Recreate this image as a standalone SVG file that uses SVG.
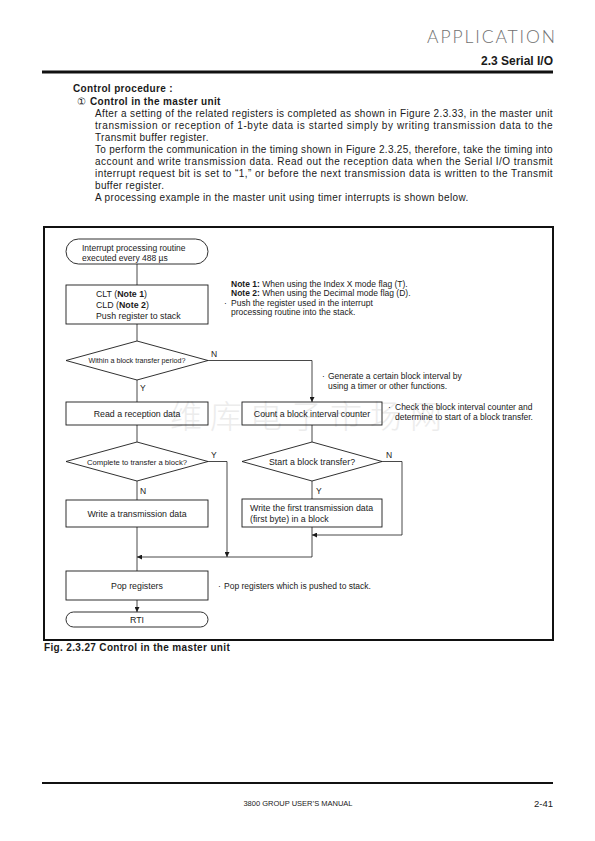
<svg xmlns="http://www.w3.org/2000/svg" width="595" height="841" viewBox="0 0 595 841">
<style>
  .t { font-family: "Liberation Sans", Arial, sans-serif; fill: #1a1a1a; }
  .p { font-size: 10px; letter-spacing: 0.35px; }
  .b { font-weight: bold; }
  .box { font-size: 8.8px; }
  .note { font-size: 8.5px; }
  .lbl { font-size: 8.5px; }
  .sh { fill: none; stroke: #1a1a1a; stroke-width: 0.9; }
  .ln { fill: none; stroke: #1a1a1a; stroke-width: 0.8; }
</style>
<defs>
  <marker id="ah" viewBox="0 0 6 6" refX="6" refY="3" markerWidth="5" markerHeight="5" orient="auto" markerUnits="userSpaceOnUse">
    <path d="M0,0 L6,3 L0,6 z" fill="#1a1a1a"/>
  </marker>
</defs>
<rect width="595" height="841" fill="#fff"/>

<!-- watermark (faint, behind everything) -->
<text x="170" y="428" style="font-family: 'Noto Sans CJK SC', sans-serif; font-size: 32px; font-weight: 300; fill: #ececec;" textLength="272" lengthAdjust="spacing">维库电子市场网</text>

<!-- header -->
<text x="555" y="43" text-anchor="end" style="font-family: Lato, 'Open Sans', sans-serif; font-weight: 300; font-size: 17.5px; fill: #707070;" textLength="128" lengthAdjust="spacing">APPLICATION</text>
<text x="553" y="65" text-anchor="end" class="t b" style="font-size: 12px;">2.3 Serial I/O</text>
<line x1="42" y1="72" x2="553" y2="72" stroke="#111" stroke-width="3"/>

<!-- body text -->
<text x="73" y="92" class="t p b">Control procedure :</text>
<text x="77" y="104.5" class="t p">①</text>
<text x="90" y="104.5" class="t p b">Control in the master unit</text>
<text x="95" y="116.5" class="t p" textLength="458" lengthAdjust="spacing">After a setting of the related registers is completed as shown in Figure 2.3.33, in the master unit</text>
<text x="95" y="128.5" class="t p" textLength="458" lengthAdjust="spacing">transmission or reception of 1-byte data is started simply by writing transmission data to the</text>
<text x="95" y="140.5" class="t p">Transmit buffer register.</text>
<text x="95" y="152.5" class="t p" textLength="458" lengthAdjust="spacing">To perform the communication in the timing shown in Figure 2.3.25, therefore, take the timing into</text>
<text x="95" y="164.5" class="t p" textLength="458" lengthAdjust="spacing">account and write transmission data. Read out the reception data when the Serial I/O transmit</text>
<text x="95" y="176.5" class="t p" textLength="458" lengthAdjust="spacing">interrupt request bit is set to “1,” or before the next transmission data is written to the Transmit</text>
<text x="95" y="188.5" class="t p">buffer register.</text>
<text x="95" y="200.5" class="t p">A processing example in the master unit using timer interrupts is shown below.</text>

<!-- frame -->
<rect x="44" y="227" width="509" height="413" fill="none" stroke="#111" stroke-width="2"/>

<!-- connectors -->
<g id="connectors">
  <path class="ln" d="M137,264 V285"/>
  <path class="ln" d="M137,324 V341"/>
  <path class="ln" d="M137,380 V402"/>
  <path class="ln" d="M208,360.5 H312 V402" marker-end="url(#ah)"/>
  <path class="ln" d="M137,425 V442"/>
  <path class="ln" d="M312,425 V442"/>
  <path class="ln" d="M208,461.5 H227 V557" marker-end="url(#ah)"/>
  <path class="ln" d="M137,481 V500"/>
  <path class="ln" d="M312,481 V499"/>
  <path class="ln" d="M382,461.5 H402 V535 H312" marker-end="url(#ah)"/>
  <path class="ln" d="M312,527 V557 H137" marker-end="url(#ah)"/>
  <path class="ln" d="M137,527 V571"/>
  <path class="ln" d="M137,600 V612" marker-end="url(#ah)"/>
  <text class="t lbl" x="211" y="357">N</text>
  <text class="t lbl" x="140" y="391">Y</text>
  <text class="t lbl" x="211" y="458">Y</text>
  <text class="t lbl" x="140" y="494">N</text>
  <text class="t lbl" x="386" y="458">N</text>
  <text class="t lbl" x="316" y="494">Y</text>
</g>

<!-- nodes -->
<g id="start">
  <rect class="sh" x="66" y="239" width="142" height="25" rx="12.5"/>
  <text class="t box" x="82" y="250.5" style="font-size:8.5px">Interrupt processing routine</text>
  <text class="t box" x="82" y="260.5" style="font-size:8.5px">executed every 488 µs</text>
</g>
<g id="push">
  <rect class="sh" x="66" y="285" width="142" height="39"/>
  <text class="t box" x="96" y="297">CLT (<tspan class="b">Note 1</tspan>)</text>
  <text class="t box" x="96" y="308">CLD (<tspan class="b">Note 2</tspan>)</text>
  <text class="t box" x="96" y="319">Push register to stack</text>
</g>
<g id="notes-push">
  <text class="t note" x="231" y="287"><tspan class="b">Note 1:</tspan> When using the Index X mode flag (T).</text>
  <text class="t note" x="231" y="295.5"><tspan class="b">Note 2:</tspan> When using the Decimal mode flag (D).</text>
  <text class="t note" x="224" y="306">·</text>
  <text class="t note" x="231" y="306">Push the register used in the interrupt</text>
  <text class="t note" x="231" y="314.5">processing routine into the stack.</text>
</g>
<g id="within">
  <polygon class="sh" points="66,360.5 137,341 208,360.5 137,380"/>
  <text class="t" x="137" y="363" text-anchor="middle" style="font-size:8px" textLength="97" lengthAdjust="spacingAndGlyphs">Within a block transfer period?</text>
</g>
<g id="note-generate">
  <text class="t note" x="322" y="379">·</text>
  <text class="t note" x="328" y="379">Generate a certain block interval by</text>
  <text class="t note" x="328" y="388.5">using a timer or other functions.</text>
</g>
<g id="read">
  <rect class="sh" x="66" y="402" width="142" height="23"/>
  <text class="t box" x="137" y="416.5" text-anchor="middle">Read a reception data</text>
</g>
<g id="count">
  <rect class="sh" x="242" y="402" width="140" height="23"/>
  <text class="t box" x="312" y="416.5" text-anchor="middle">Count a block interval counter</text>
</g>
<g id="note-check">
  <text class="t note" x="388" y="410">·</text>
  <text class="t note" x="395" y="410">Check the block interval counter and</text>
  <text class="t note" x="395" y="419.5">determine to start of a block transfer.</text>
</g>
<g id="complete">
  <polygon class="sh" points="66,461.5 137,442 208,461.5 137,481"/>
  <text class="t" x="137" y="464.5" text-anchor="middle" style="font-size:8px" textLength="100" lengthAdjust="spacingAndGlyphs">Complete to transfer a block?</text>
</g>
<g id="start-block">
  <polygon class="sh" points="242,461.5 312,442 382,461.5 312,481"/>
  <text class="t box" x="312" y="464.5" text-anchor="middle">Start a block transfer?</text>
</g>
<g id="write">
  <rect class="sh" x="66" y="500" width="142" height="27"/>
  <text class="t box" x="137" y="516.5" text-anchor="middle">Write a transmission data</text>
</g>
<g id="write-first">
  <rect class="sh" x="242" y="499" width="140" height="28"/>
  <text class="t box" x="250" y="511">Write the first transmission data</text>
  <text class="t box" x="250" y="521.5">(first byte) in a block</text>
</g>
<g id="pop">
  <rect class="sh" x="66" y="571" width="142" height="29"/>
  <text class="t box" x="137" y="588.5" text-anchor="middle">Pop registers</text>
</g>
<g id="note-pop">
  <text class="t note" x="218" y="588.5">·</text>
  <text class="t note" x="224" y="588.5">Pop registers which is pushed to stack.</text>
</g>
<g id="rti">
  <rect class="sh" x="66" y="612" width="142" height="15" rx="7.5"/>
  <text class="t box" x="137" y="622.5" text-anchor="middle">RTI</text>
</g>

<!-- caption -->
<text x="44" y="651" class="t p b">Fig. 2.3.27 Control in the master unit</text>

<!-- footer -->
<line x1="42" y1="783" x2="553" y2="783" stroke="#111" stroke-width="2"/>
<text x="298" y="806" text-anchor="middle" class="t" style="font-size: 7.5px;">3800 GROUP USER’S MANUAL</text>
<text x="553" y="806.5" text-anchor="end" class="t" style="font-size: 9.5px;">2-41</text>
</svg>
